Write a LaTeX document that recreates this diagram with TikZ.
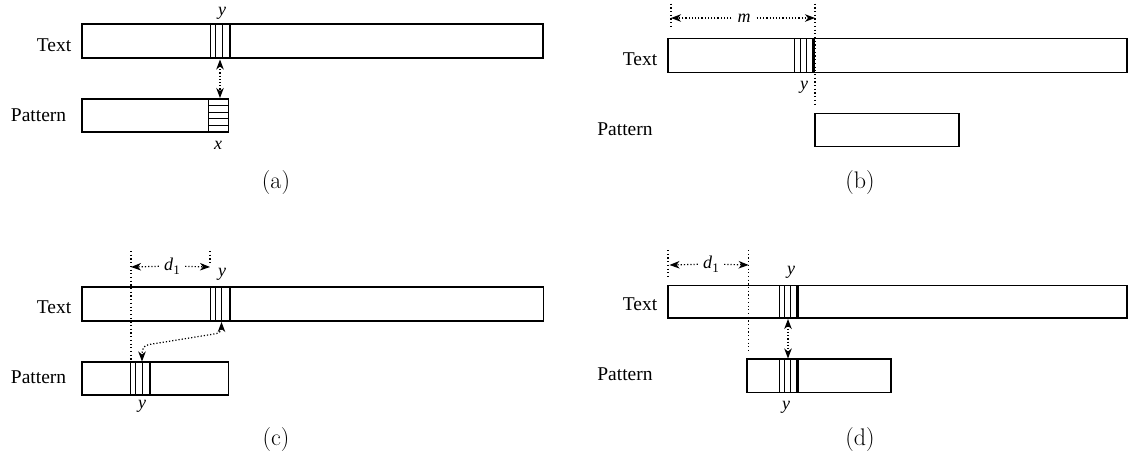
\documentclass[tikz,border=0pt]{standalone}
\usepackage{fontspec}
\newfontfamily\tms{Liberation Serif}
\usetikzlibrary{arrows.meta}
\tikzset{
  box/.style={draw, line width=1.3pt, inner sep=0pt, outer sep=0pt, anchor=north west},
  lbl/.style={font=\tms\fontsize{19.5}{21}\selectfont, anchor=base, inner sep=0pt},
  var/.style={font=\tms\itshape\fontsize{18}{20}\selectfont, inner sep=1pt},
  capt/.style={font=\fontsize{24}{27}\selectfont},
  stripe/.style={line width=0.9pt},
  heavystripe/.style={line width=2.8pt},
  dots/.style={line width=1.2pt, dash pattern=on 1.2pt off 2pt},
  vdots/.style={line width=1.2pt, dash pattern=on 1.2pt off 2.5pt},
  dtip/.style={-{Stealth[length=10pt,width=7.5pt,inset=3pt]}},
  dtips/.style={{Stealth[length=10pt,width=7.5pt,inset=3pt]}-{Stealth[length=10pt,width=7.5pt,inset=3pt]}},
}
\begin{document}
\begin{tikzpicture}[x=1pt,y=-1pt]
\useasboundingbox[fill=white] (0,0) rectangle (1133,458);

% ---------------- (a)
\node[box, minimum width=461pt, minimum height=34pt] (ta) at (82,24) {};
\node[box, minimum width=146.5pt, minimum height=33pt] (pa) at (82,99) {};
\node[lbl] (tla) at (54,51) {Text};
\node[lbl] (pla) at (38.6,121.4) {Pattern};
\foreach \s in {210,215.5,222} \draw[stripe] (\s,24) -- (\s,58);
\draw[heavystripe] (230,24) -- (230,58);
\draw[stripe] (208,99) -- (208,132);
\foreach \h in {105.6,112.2,118.8,125.4} \draw[stripe] (208,\h) -- (228.5,\h);
\node[var] (ya) at (222,13) {y};
\node[var] (xa) at (218,145) {x};
\coordinate (a1) at (220,59.5);
\coordinate (a2) at (220,98);
\draw[dots, dtips] (a1) -- (a2);
\node[capt] (ca) at (276,183) {(a)};

% ---------------- (b)
\node[box, minimum width=459pt, minimum height=34pt] (tb) at (668,38.6) {};
\node[box, minimum width=144pt, minimum height=33pt] (pb) at (815,113.6) {};
\node[lbl] (tlb) at (640,65.4) {Text};
\node[lbl] (plb) at (625,135.7) {Pattern};
\foreach \s in {794,800,806} \draw[stripe] (\s,38.6) -- (\s,72.5);
\draw[heavystripe] (813.5,38.6) -- (813.5,72.5);
\coordinate (bt) at (815,3.6);
\coordinate (bb) at (815,104);
\draw[vdots] (bt) -- (bb);
\coordinate (blt) at (671,3.6);
\coordinate (blb) at (671,29);
\draw[vdots] (blt) -- (blb);
\node[var, inner sep=6pt] (m) at (744,18) {m};
\coordinate (bl) at (671,18);
\coordinate (br) at (815,18);
\draw[dots, dtip] (m) -- (bl);
\draw[dots, dtip] (m) -- (br);
\node[var] (yb) at (804,87.5) {y};
\node[capt] (cb) at (860,183) {(b)};

% ---------------- (c)
\node[box, minimum width=461.6pt, minimum height=34pt] (tc) at (82,287) {};
\node[box, minimum width=146.6pt, minimum height=33pt] (pc) at (82,362) {};
\node[lbl] (tlc) at (54,313) {Text};
\node[lbl] (plc) at (38.6,383.6) {Pattern};
\foreach \s in {210,215.5,221.5} \draw[stripe] (\s,287) -- (\s,321);
\draw[heavystripe] (230,287) -- (230,321);
\foreach \s in {130.7,135.7,142} \draw[stripe] (\s,362) -- (\s,395);
\draw[heavystripe] (150,362) -- (150,395);
\coordinate (clt) at (131,251);
\coordinate (clb) at (131,361);
\draw[vdots] (clt) -- (clb);
\coordinate (crt) at (210,251);
\coordinate (crb) at (210,264);
\draw[vdots] (crt) -- (crb);
\node[var, inner sep=5pt] (dc) at (172,266) {d\kern0.3pt\raisebox{-4pt}{\upshape\fontsize{13}{13}\selectfont 1}};
\coordinate (cl) at (131,267);
\coordinate (cr) at (210,267);
\draw[dots, dtip] (dc) -- (cl);
\draw[dots, dtip] (dc) -- (cr);
\node[var] (yc1) at (222,274.6) {y};
\node[var] (yc2) at (142,406.8) {y};
\coordinate (c1) at (221.5,322);
\coordinate (c2) at (142,361.5);
\draw[dots, dtips] (c1) .. controls (221.5,331) and (219,333.5) .. (213,334.2)
   -- (149,344.5) .. controls (143.5,345.5) and (142,349) .. (c2);
\node[capt] (cc) at (276,440) {(c)};

% ---------------- (d)
\node[box, minimum width=459pt, minimum height=32.6pt] (td) at (668,285.4) {};
\node[box, minimum width=144pt, minimum height=33.5pt] (pd) at (747,359) {};
\node[lbl] (tld) at (640,310) {Text};
\node[lbl] (pld) at (625,380) {Pattern};
\foreach \s in {779,784,790} \draw[stripe] (\s,285.4) -- (\s,318);
\draw[heavystripe] (797.5,285.4) -- (797.5,318);
\foreach \s in {779,784,790} \draw[stripe] (\s,359) -- (\s,392.5);
\draw[heavystripe] (797.5,359) -- (797.5,392.5);
\coordinate (dlt) at (668,250);
\coordinate (dlb) at (668,276);
\draw[vdots] (dlt) -- (dlb);
\coordinate (drt) at (748.6,250);
\coordinate (drb) at (748.6,350);
\draw[vdots] (drt) -- (drb);
\node[var, inner sep=5pt] (dd) at (711,264) {d\kern0.3pt\raisebox{-4pt}{\upshape\fontsize{13}{13}\selectfont 1}};
\coordinate (dl) at (669.5,265);
\coordinate (dr) at (748.6,265);
\draw[dots, dtip] (dd) -- (dl);
\draw[dots, dtip] (dd) -- (dr);
\node[var] (yd1) at (791,272) {y};
\node[var] (yd2) at (786,407) {y};
\coordinate (d1) at (788,319);
\coordinate (d2) at (788,358.5);
\draw[dots, dtips] (d1) -- (d2);
\node[capt] (cd) at (860,440) {(d)};
\end{tikzpicture}
\end{document}
